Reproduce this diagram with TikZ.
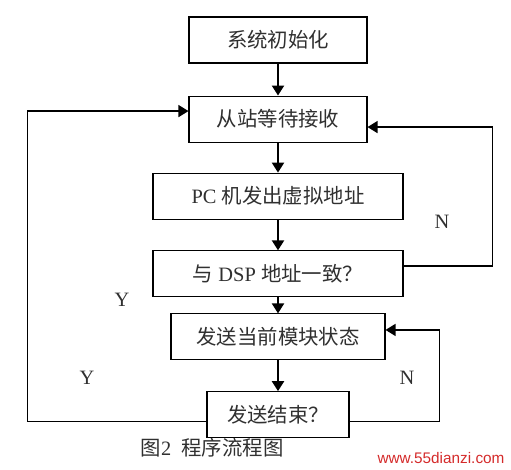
\documentclass[tikz,border=0pt]{standalone}
\usepackage{fontspec}
\setmainfont{Liberation Serif}
\setsansfont{Liberation Sans}
\newfontfamily\cjk{Noto Sans CJK SC}
\usepackage{xcolor}
\usetikzlibrary{arrows.meta,positioning}
\definecolor{inkgray}{HTML}{303030}
\definecolor{webred}{HTML}{D42A2A}

\begin{document}
\begin{tikzpicture}[
  x=0.75pt, y=-0.75pt,
  node distance=23pt,
  font=\fontsize{15.3}{18}\selectfont,
  box/.style={draw=black, line width=0.8pt, fill=white, text=inkgray,
              minimum height=34.5pt, inner sep=2pt},
  arrow/.style={-{Triangle[length=7.5pt,width=9pt]}, line width=1.6pt, draw=black},
  back/.style={-{Triangle[length=7.5pt,width=9pt]}, line width=1pt, draw=black},
  lbl/.style={text=inkgray}
]
  \useasboundingbox (0,0) rectangle (511,469);
  \node[box, minimum width=133.5pt] (init) at (278,40) {\cjk 系统初始化};
  \node[box, minimum width=133.5pt, below=24pt of init] (wait) {\cjk 从站等待接收};
  \node[box, minimum width=187.5pt, below=22.5pt of wait] (addr) {PC {\cjk 机发出虚拟地址}};
  \node[box, minimum width=187.5pt, below=of addr] (match) {{\cjk 与} DSP {\cjk 地址一致？}};
  \node[box, minimum width=160.5pt, below=12pt of match] (send) {\cjk 发送当前模块状态};
  \node[box, minimum width=106.5pt, below=of send] (done) {\cjk 发送结束？};
  \draw[arrow] (init) -- (wait);
  \draw[arrow] (wait) -- (addr);
  \draw[arrow] (addr) -- (match);
  \draw[arrow] (match) -- (send);
  \draw[arrow] (send) -- (done);
  \draw[back] ([yshift=-5.25pt]done.west) -- ++(-179,0) |- ([yshift=6pt]wait.west);
  \draw[back] ([yshift=6pt]match.east) -- ++(89,0) |- ([yshift=-6pt]wait.east);
  \draw[back] ([yshift=-5.25pt]done.east) -- ++(90,0) |- ([yshift=5.25pt]send.east);
  \node[lbl] (n1) at (442,222) {N};
  \node[lbl] (y1) at (122,300) {Y};
  \node[lbl] (y2) at (87,378) {Y};
  \node[lbl] (n2) at (407,378) {N};
  \node[lbl] (cap) at (212,448) {{\cjk 图}2\ \ {\cjk 程序流程图}};
  \node[text=webred, font=\sffamily\fontsize{11.5}{13}\selectfont] (web) at (441,458) {www.55dianzi.com};
\end{tikzpicture}
\end{document}
